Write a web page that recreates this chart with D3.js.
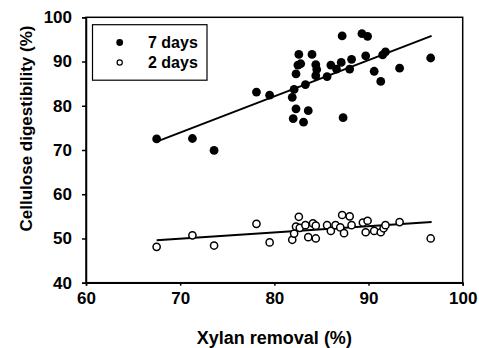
<!DOCTYPE html>
<html>
<head>
<meta charset="utf-8">
<script src="https://cdn.jsdelivr.net/npm/d3@7"></script>
<style>
  body { margin: 0; background: #fff; }
  text { font-family: "Liberation Sans", Arial, sans-serif; font-weight: bold; fill: #000; }
</style>
</head>
<body>
<figure id="chart" style="margin:0"></figure>
<script>
// 7 days: [xylan removal, cellulose digestibility]
const days7 = [
  [67.5, 72.5], [71.3, 72.6], [73.6, 69.9], [78.1, 83.1], [79.5, 82.4],
  [81.9, 81.9], [82.1, 83.7], [82.3, 87.2], [82.6, 91.6], [82.5, 89.2],
  [82.8, 89.5], [82.3, 79.3], [82.0, 77.1], [83.1, 76.3], [83.6, 78.9],
  [83.3, 84.8], [84.0, 91.6], [84.4, 89.3], [84.5, 88.2], [84.4, 86.8],
  [85.6, 86.6], [86.0, 89.2], [86.6, 88.3], [87.1, 89.8], [87.2, 95.8],
  [87.3, 77.3], [88.0, 88.3], [88.2, 90.5], [89.3, 96.3], [89.9, 95.7],
  [89.7, 91.3], [90.6, 87.8], [91.3, 85.5], [91.5, 91.5], [91.8, 92.2],
  [93.3, 88.5], [96.6, 90.8]
];
// 2 days
const days2 = [
  [67.5, 48.1], [71.3, 50.7], [73.6, 48.4], [78.1, 53.3], [79.5, 49.1],
  [81.9, 49.7], [82.1, 51.1], [82.3, 52.7], [82.6, 54.9], [82.7, 52.4],
  [83.3, 53.0], [83.6, 50.3], [84.1, 53.4], [84.4, 52.9], [84.4, 50.0],
  [85.6, 53.0], [86.0, 51.7], [86.5, 53.0], [87.2, 55.3], [87.0, 52.5],
  [87.4, 51.2], [88.0, 55.0], [88.2, 53.0], [89.4, 53.6], [89.9, 54.0],
  [89.7, 51.4], [90.6, 51.7], [91.3, 51.4], [91.6, 52.3], [91.8, 53.0],
  [93.3, 53.7], [96.6, 50.0]
];
// fitted lines (end points)
const fit7 = [[67.5, 71.9], [96.7, 95.8]];
const fit2 = [[67.5, 49.6], [96.7, 53.7]];

const xTicks = [60, 70, 80, 90, 100];
const yTicks = [40, 50, 60, 70, 80, 90, 100];
const legendLabels = ["7 days", "2 days"];

const W = 479, H = 348;
const margin = { top: 17.3, right: 16.3, bottom: 65.3, left: 86 };
const width = W - margin.left - margin.right;
const height = H - margin.top - margin.bottom;

const svg = d3.select("figure#chart")
  .append("svg")
  .attr("width", W)
  .attr("height", H);

const g = svg.append("g")
  .attr("transform", "translate(" + margin.left + "," + margin.top + ")");

const x = d3.scaleLinear().domain([60, 100]).range([0, width]);
const y = d3.scaleLinear().domain([40, 100]).range([height, 0]);

// frame
g.append("rect")
  .attr("width", width)
  .attr("height", height)
  .attr("fill", "none")
  .attr("stroke", "#000")
  .attr("stroke-width", 1.5);

// x axis
const xAxis = g.append("g")
  .attr("transform", "translate(0," + height + ")")
  .call(d3.axisBottom(x).tickValues(xTicks).tickSize(3).tickPadding(6));
xAxis.selectAll("text").style("font-size", "17px");

// y axis
const yAxis = g.append("g")
  .call(d3.axisLeft(y).tickValues(yTicks).tickSize(4).tickPadding(10));
yAxis.selectAll("text").style("font-size", "17px");

[xAxis, yAxis].forEach(a => {
  a.select(".domain").attr("stroke-width", 1.5);
  a.selectAll(".tick line").attr("stroke-width", 1.5);
});

// fit lines
const line = d3.line().x(d => x(d[0])).y(d => y(d[1]));
[fit7, fit2].forEach(f => {
  g.append("path")
    .attr("d", line(f))
    .attr("fill", "none")
    .attr("stroke", "#000")
    .attr("stroke-width", 2);
});

// 2 days - open circles
g.selectAll("circle.d2")
  .data(days2)
  .enter()
  .append("circle")
  .attr("class", "d2")
  .attr("cx", d => x(d[0]))
  .attr("cy", d => y(d[1]))
  .attr("r", 3.6)
  .attr("fill", "#fff")
  .attr("stroke", "#000")
  .attr("stroke-width", 1.5);

// 7 days - filled circles
g.selectAll("circle.d7")
  .data(days7)
  .enter()
  .append("circle")
  .attr("class", "d7")
  .attr("cx", d => x(d[0]))
  .attr("cy", d => y(d[1]))
  .attr("r", 4.4)
  .attr("fill", "#000");

// legend
const lg = svg.append("g");
lg.append("rect")
  .attr("x", 92.5).attr("y", 24.7)
  .attr("width", 114.5).attr("height", 55.5)
  .attr("fill", "#fff")
  .attr("stroke", "#000")
  .attr("stroke-width", 1.2);
lg.append("circle").attr("cx", 119.7).attr("cy", 42.5).attr("r", 3.4).attr("fill", "#000");
lg.append("circle").attr("cx", 119.7).attr("cy", 62.5).attr("r", 2.6)
  .attr("fill", "#fff").attr("stroke", "#000").attr("stroke-width", 1.2);
lg.selectAll("text.leg")
  .data(legendLabels)
  .enter()
  .append("text")
  .attr("class", "leg")
  .attr("x", 148)
  .attr("y", (d, i) => 48 + i * 20)
  .style("font-size", "16px")
  .text(d => d);

// axis titles
svg.append("text")
  .attr("x", margin.left + width / 2)
  .attr("y", 344)
  .attr("text-anchor", "middle")
  .style("font-size", "18px")
  .text("Xylan removal (%)");

svg.append("text")
  .attr("transform", "translate(32,128.5) rotate(-90)")
  .attr("text-anchor", "middle")
  .style("font-size", "17px")
  .text("Cellulose digestibility (%)");
</script>
</body>
</html>
